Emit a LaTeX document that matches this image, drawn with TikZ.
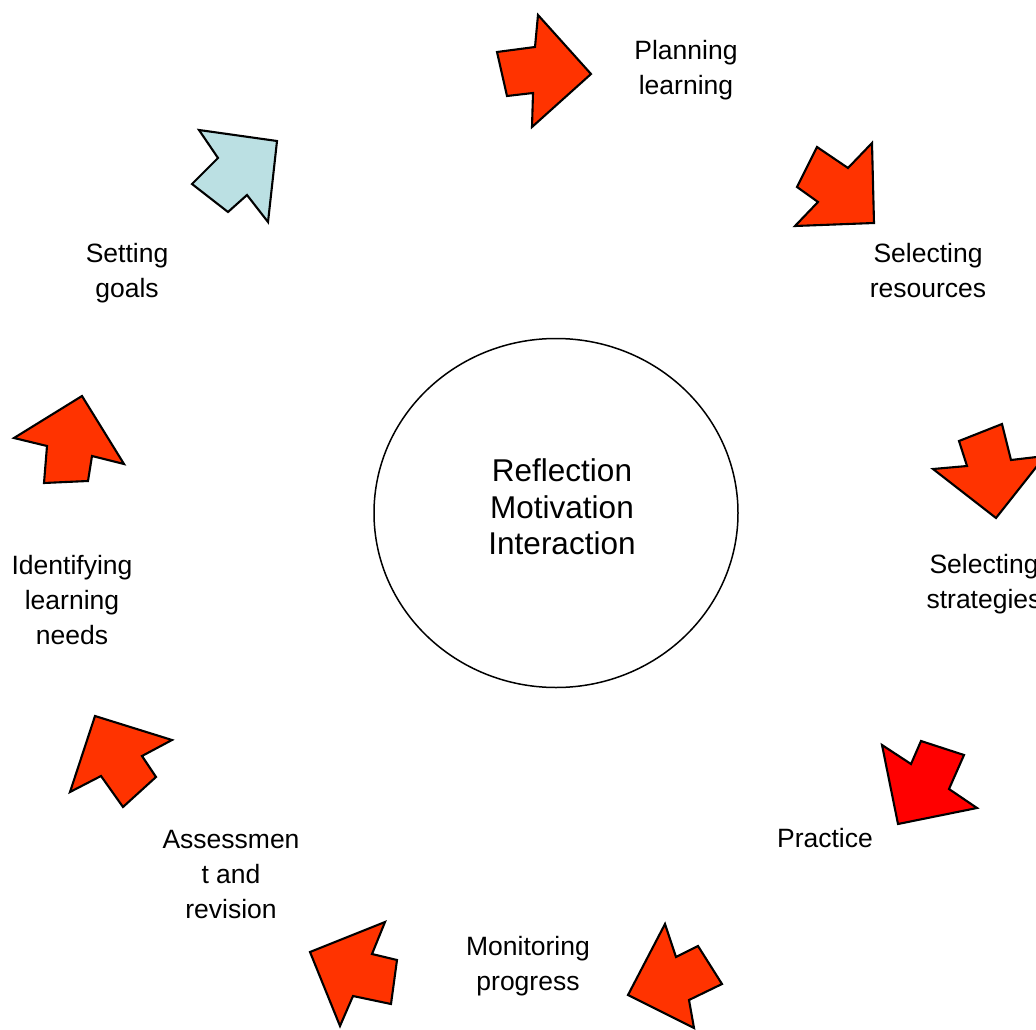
\documentclass[tikz,border=0pt]{standalone}
\usepackage{fontspec}
\setmainfont{Liberation Sans}
\usetikzlibrary{shapes.geometric}
\definecolor{arrorange}{HTML}{FF3300}
\definecolor{arrred}{HTML}{FF0000}
\definecolor{arrblue}{HTML}{BBE0E3}
\begin{document}
\begin{tikzpicture}[x=1pt,y=-1pt,
  arr/.style={draw=black,line width=2.1pt,fill=arrorange},
  lbl/.style={align=center,inner sep=0pt,font=\fontsize{26.5}{35}\selectfont}]
\useasboundingbox (0,0) rectangle (1036,1030);
\clip (0,0) rectangle (1036,1030);
% centre
\node[draw,ellipse,line width=1.5pt,minimum width=364pt,minimum height=349pt,inner sep=0pt] (core) at (556,513) {};
\node[align=center,inner sep=0pt,font=\fontsize{31.5}{36.5}\selectfont] (themes) at (562,507) {Reflection\\Motivation\\Interaction};
% labels, clockwise
\node[lbl] (plan) at (686,70) {Planning\\learning};
\node[lbl] (res) at (928,270.5) {Selecting\\resources};
\node[lbl] (strat) at (984,584) {Selecting\\strategies};
\node[lbl] (prac) at (825,838) {Practice};
\node[lbl] (mon) at (528,966.5) {Monitoring\\progress};
\node[lbl] (assess) at (231,874.5) {Assessmen\\t and\\revision};
\node[lbl] (ident) at (72,600.5) {Identifying\\learning\\needs};
\node[lbl] (goals) at (127,273.5) {Setting\\goals};
% arrows
\draw[arr] (497,52)--(535,47)--(538,15)--(591,74)--(532,127)--(533,93)--(507,96)--cycle;
\draw[arr] (874,223)--(872,143)--(848,168)--(817,147)--(797,187)--(818,202)--(795,226)--cycle;
\draw[arr] (959,441)--(1002,424)--(1011,460)--(1045,456)--(996,518)--(933,469)--(967,466)--cycle;
\draw[arr,fill=arrred] (882,745)--(911,764)--(921,741)--(964,755)--(949,789)--(977,808)--(898,824)--cycle;
\draw[arr] (665,924)--(676,957)--(698,946)--(722,984)--(689,1000)--(694,1028)--(628,995)--cycle;
\draw[arr] (385,922)--(372,954)--(397,960)--(391,1004)--(353,996)--(340,1026)--(310,952)--cycle;
\draw[arr] (95,716)--(172,740)--(142,756)--(156,777)--(123,807)--(101,776)--(70,792)--cycle;
\draw[arr] (82,396)--(124,464)--(92,456)--(88,481)--(44,483)--(47,446)--(14,438)--cycle;
\draw[arr,fill=arrblue] (277,141)--(199,130)--(218,158)--(192,184)--(228,212)--(247,195)--(268,222)--cycle;
\end{tikzpicture}
\end{document}
